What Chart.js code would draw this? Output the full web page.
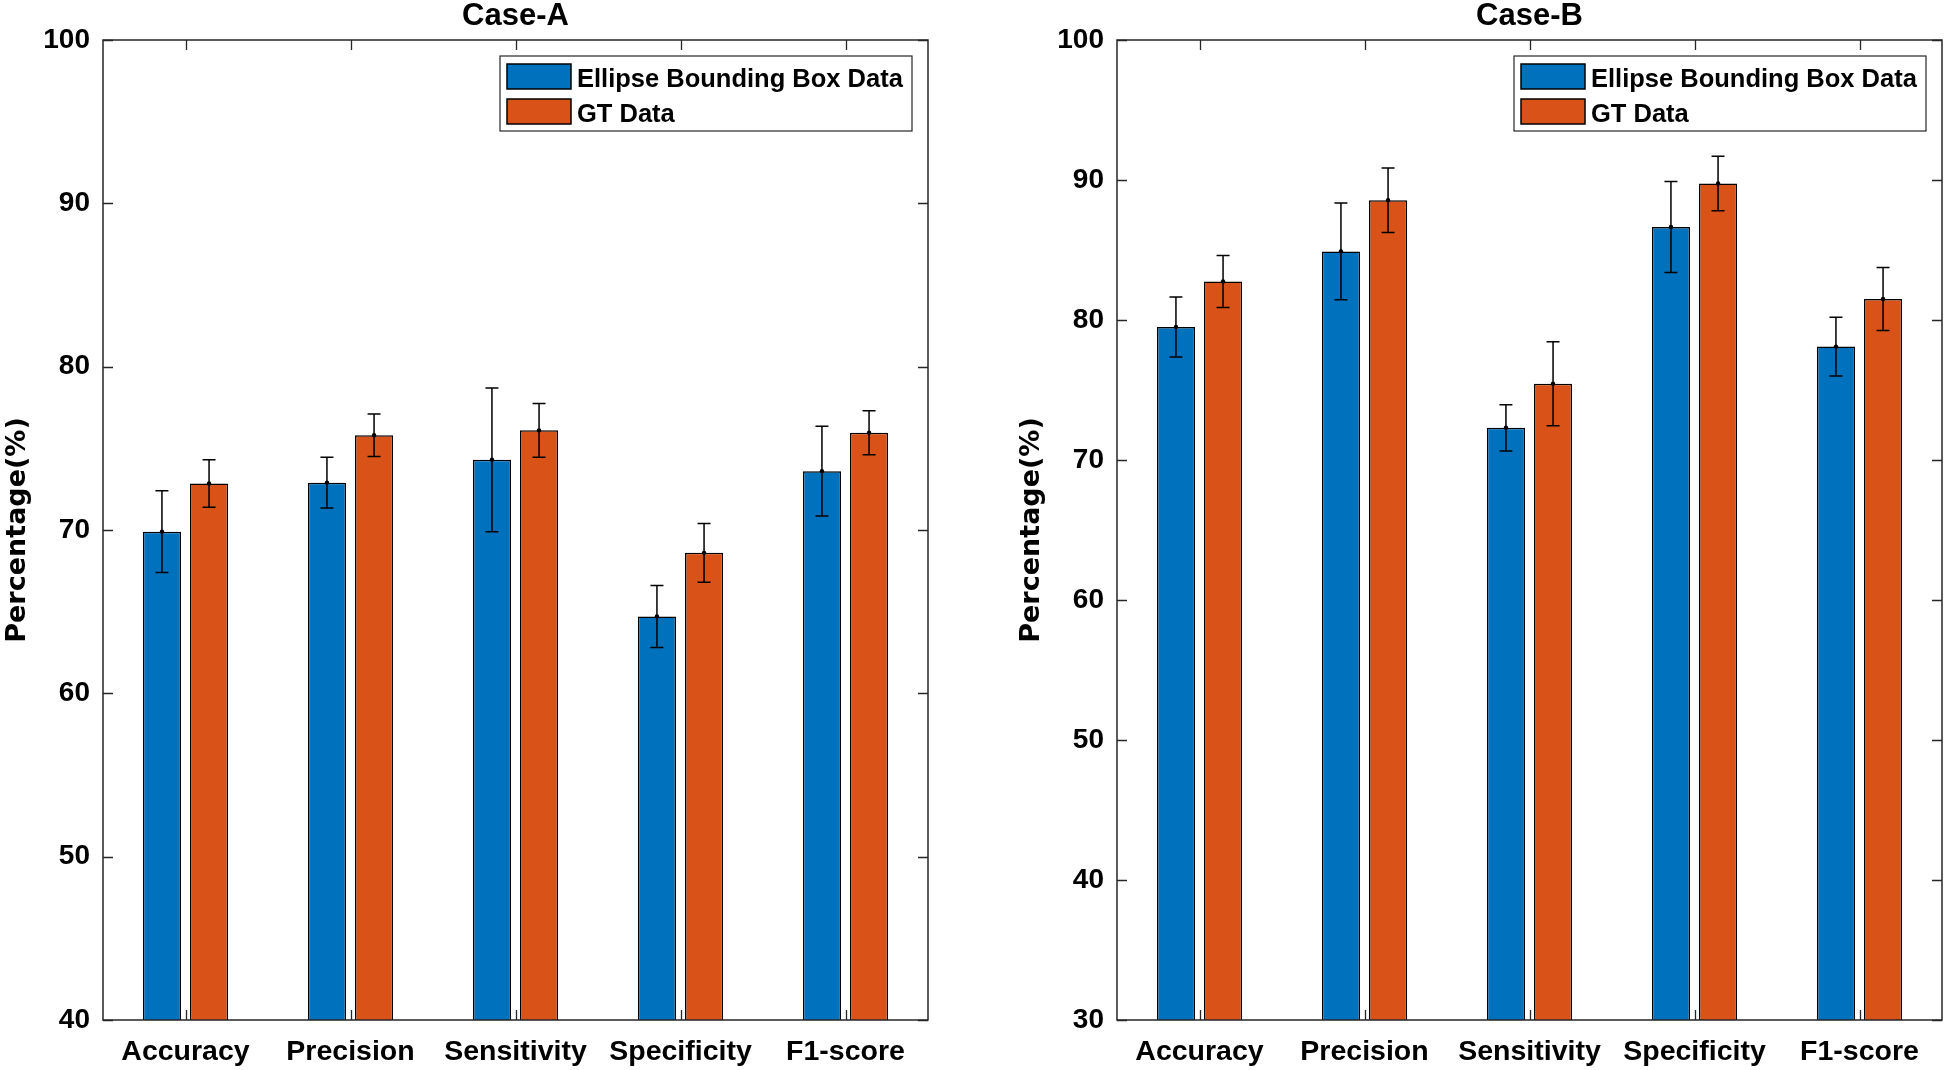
<!DOCTYPE html>
<html>
<head>
<meta charset="utf-8">
<script src="https://cdn.jsdelivr.net/npm/chart.js@4.4.1/dist/chart.umd.min.js"></script>
<style>
  body { margin: 0; background: #fff; }
  #wrap { position: relative; width: 1944px; height: 1070px; }
  .box { position: absolute; top: 0; width: 972px; height: 1070px; }
</style>
</head>
<body>
<div id="wrap">
  <div class="box" style="left:0"><canvas id="chartA" width="972" height="1070"></canvas></div>
  <div class="box" style="left:972px"><canvas id="chartB" width="972" height="1070"></canvas></div>
</div>
<script>
// categories / series
const categories = ["Accuracy", "Precision", "Sensitivity", "Specificity", "F1-score"];
const seriesNames = ["Ellipse Bounding Box Data", "GT Data"];

// Case-A values (%)
const caseAEllipse = [69.9, 72.9, 74.3, 64.7, 73.6];
const caseAEllipseErr = [2.5, 1.55, 4.4, 1.9, 2.75];
const caseAGT = [72.85, 75.8, 76.1, 68.6, 75.95];
const caseAGTErr = [1.45, 1.3, 1.65, 1.8, 1.35];

// Case-B values (%)
const caseBEllipse = [79.5, 84.9, 72.3, 86.65, 78.1];
const caseBEllipseErr = [2.15, 3.45, 1.65, 3.25, 2.1];
const caseBGT = [82.75, 88.55, 75.45, 89.75, 81.5];
const caseBGTErr = [1.85, 2.3, 3.0, 1.95, 2.25];

// y axis ticks
const yTicksA = [40, 50, 60, 70, 80, 90, 100];
const yTicksB = [30, 40, 50, 60, 70, 80, 90, 100];

const BLUE = "#0072BD";
const ORANGE = "#D95319";
const AXIS = "#262626";
const FONT = "'Liberation Sans', Arial, sans-serif";

// error bars with dot at bar top
const errorBars = {
  id: "errorBars",
  afterDatasetsDraw(chart) {
    const ctx = chart.ctx;
    const y = chart.scales.y;
    ctx.save();
    ctx.strokeStyle = "#000";
    ctx.fillStyle = "#000";
    ctx.lineWidth = 1.5;
    chart.data.datasets.forEach((ds, i) => {
      const meta = chart.getDatasetMeta(i);
      meta.data.forEach((bar, j) => {
        const v = ds.data[j];
        const e = ds.errors[j];
        const x = bar.x;
        const yt = y.getPixelForValue(v + e);
        const yb = y.getPixelForValue(v - e);
        ctx.beginPath();
        ctx.moveTo(x, yt); ctx.lineTo(x, yb);
        ctx.moveTo(x - 6.5, yt); ctx.lineTo(x + 6.5, yt);
        ctx.moveTo(x - 6.5, yb); ctx.lineTo(x + 6.5, yb);
        ctx.stroke();
        ctx.beginPath();
        ctx.arc(x, y.getPixelForValue(v), 2.2, 0, Math.PI * 2);
        ctx.fill();
      });
    });
    ctx.restore();
  },
};

// matlab style box with inward ticks
const axesBox = {
  id: "axesBox",
  beforeDatasetsDraw(chart) {
    const { ctx, chartArea: a, scales } = chart;
    ctx.save();
    ctx.strokeStyle = AXIS;
    ctx.lineWidth = 1.3;
    ctx.beginPath();
    scales.y.ticks.forEach((t) => {
      const py = Math.round(scales.y.getPixelForValue(t.value)) + 0.5;
      ctx.moveTo(a.left, py); ctx.lineTo(a.left + 10, py);
      ctx.moveTo(a.right, py); ctx.lineTo(a.right - 10, py);
    });
    categories.forEach((c, i) => {
      const px = Math.round(scales.x.getPixelForValue(i)) + 0.5;
      ctx.moveTo(px, a.top); ctx.lineTo(px, a.top + 10);
      ctx.moveTo(px, a.bottom); ctx.lineTo(px, a.bottom - 10);
    });
    ctx.stroke();
    ctx.restore();
  },
  afterDraw(chart) {
    const { ctx, chartArea: a } = chart;
    ctx.save();
    ctx.strokeStyle = AXIS;
    ctx.lineWidth = 1.5;
    ctx.strokeRect(a.left, a.top, a.right - a.left, a.bottom - a.top);
    ctx.restore();
  },
};

// legend in the upper right corner, with a frame
const boxLegend = {
  id: "boxLegend",
  afterDraw(chart) {
    const { ctx, chartArea: a } = chart;
    const w = 412, h = 75;
    const x0 = a.right - 16 - w;
    const y0 = a.top + 16;
    ctx.save();
    ctx.fillStyle = "#fff";
    ctx.fillRect(x0, y0, w, h);
    ctx.strokeStyle = "#262626";
    ctx.lineWidth = 1.2;
    ctx.strokeRect(x0, y0, w, h);
    ctx.font = "bold 25.5px " + FONT;
    ctx.textBaseline = "alphabetic";
    chart.data.datasets.forEach((ds, i) => {
      const sy = y0 + 8 + i * 35;
      ctx.fillStyle = ds.backgroundColor;
      ctx.fillRect(x0 + 7, sy, 64, 25);
      ctx.strokeStyle = "#000";
      ctx.lineWidth = 1.5;
      ctx.strokeRect(x0 + 7, sy, 64, 25);
      ctx.fillStyle = "#000";
      ctx.fillText(ds.label, x0 + 77, y0 + 31 + i * 34.5);
    });
    ctx.restore();
  },
};

function makeChart(id, title, ellipse, ellipseErr, gt, gtErr, yTicks, leftW, padRight, yTitlePad) {
  const ctx = document.getElementById(id).getContext("2d");
  return new Chart(ctx, {
    type: "bar",
    data: {
      labels: categories,
      datasets: [
        {
          label: seriesNames[0],
          data: ellipse,
          errors: ellipseErr,
          backgroundColor: BLUE,
          borderColor: "#000",
          borderWidth: 1.5,
          borderSkipped: false,
          categoryPercentage: 0.571,
          barPercentage: 0.81,
        },
        {
          label: seriesNames[1],
          data: gt,
          errors: gtErr,
          backgroundColor: ORANGE,
          borderColor: "#000",
          borderWidth: 1.5,
          borderSkipped: false,
          categoryPercentage: 0.571,
          barPercentage: 0.81,
        },
      ],
    },
    options: {
      responsive: false,
      animation: false,
      layout: { padding: { left: 0, right: padRight, top: 0, bottom: 0 } },
      plugins: {
        legend: { display: false },
        tooltip: { enabled: false },
        title: {
          display: true,
          text: title,
          fullSize: false,
          color: "#000",
          font: { family: FONT, weight: "bold", size: 31, lineHeight: 1 },
          padding: { top: 1, bottom: 8 },
        },
      },
      scales: {
        x: {
          grid: { display: false, drawTicks: false },
          border: { display: false },
          ticks: { color: "#000", padding: 15, font: { family: FONT, weight: "bold", size: 28.5 } },
          afterFit(s) { s.height = 50; },
        },
        y: {
          min: yTicks[0],
          max: yTicks[yTicks.length - 1],
          afterBuildTicks(s) { s.ticks = yTicks.map((v) => ({ value: v })); },
          grid: { display: false, drawTicks: false },
          border: { display: false },
          ticks: { color: "#000", padding: 13, font: { family: FONT, weight: "bold", size: 28 } },
          title: {
            display: true,
            text: "Percentage(%)",
            color: "#000",
            font: { family: "'DejaVu Sans', sans-serif", weight: "bold", size: 27 },
            padding: { top: yTitlePad, bottom: 0 },
          },
          afterFit(s) { s.width = leftW; },
        },
      },
    },
    plugins: [axesBox, errorBars, boxLegend],
  });
}

makeChart("chartA", "Case-A", caseAEllipse, caseAEllipseErr, caseAGT, caseAGTErr, yTicksA, 103, 44, 2);
makeChart("chartB", "Case-B", caseBEllipse, caseBEllipseErr, caseBGT, caseBGTErr, yTicksB, 145, 2, 44);
</script>
</body>
</html>
